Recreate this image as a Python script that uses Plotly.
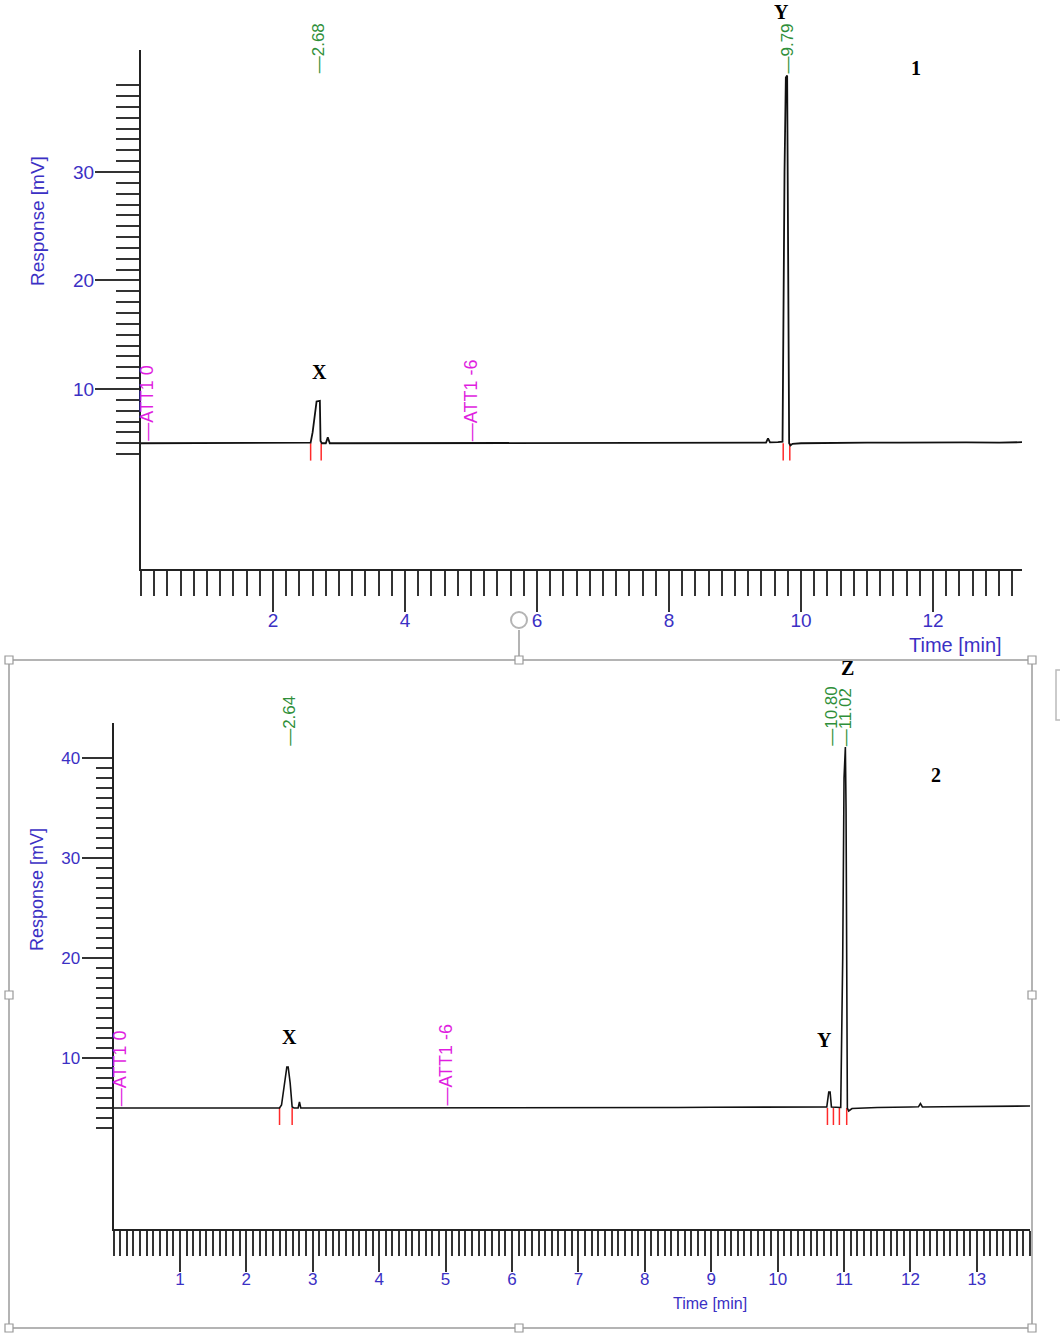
import plotly.graph_objects as go

# ---------------- data ----------------
# Chromatogram 1 (top panel)
time_1 = [0.00, 0.50, 1.00, 1.50, 2.00, 2.50, 2.57, 2.60, 2.63, 2.66, 2.71, 2.72, 2.74,
          2.80, 2.83, 2.86, 3.00, 4.00, 5.00, 6.00, 7.00, 8.00, 9.00, 9.40, 9.47,
          9.50, 9.53, 9.65, 9.72, 9.75, 9.77, 9.79, 9.80, 9.82, 9.84, 9.87, 10.00,
          10.50, 11.00, 11.50, 12.00, 12.50, 13.00, 13.35]
resp_1 = [5.00, 5.00, 5.00, 5.00, 5.00, 5.00, 5.05, 6.00, 7.60, 8.85, 8.90, 5.20, 5.00,
          5.00, 5.55, 5.00, 5.00, 5.00, 5.00, 5.00, 5.00, 5.00, 5.02, 5.05, 5.05,
          5.45, 5.08, 5.10, 5.15, 30.00, 38.70, 38.90, 30.00, 5.00, 4.80, 4.95, 5.00,
          5.05, 5.05, 5.05, 5.08, 5.08, 5.05, 5.10]

# Chromatogram 2 (bottom panel)
time_2 = [0.00, 0.50, 1.00, 1.50, 2.00, 2.50, 2.53, 2.57, 2.61, 2.63, 2.66, 2.69, 2.72,
          2.78, 2.80, 2.82, 3.00, 4.00, 5.00, 6.00, 7.00, 8.00, 8.50, 9.00, 9.50,
          10.00, 10.50, 10.74, 10.77, 10.79, 10.81, 10.90, 10.95, 10.98, 11.00, 11.02,
          11.03, 11.05, 11.07, 11.12, 11.50, 12.00, 12.12, 12.15, 12.18, 12.50, 13.00,
          13.50, 13.81]
resp_2 = [5.00, 5.00, 5.00, 5.00, 5.00, 5.00, 5.30, 7.00, 9.10, 9.10, 7.50, 5.10, 5.00,
          5.00, 5.60, 5.00, 5.00, 5.00, 5.00, 5.00, 5.00, 5.02, 5.05, 5.08, 5.10,
          5.10, 5.12, 5.10, 6.60, 6.60, 5.10, 5.10, 5.05, 20.00, 38.00, 41.10,
          35.00, 5.00, 4.70, 4.95, 5.05, 5.10, 5.12, 5.45, 5.10, 5.12, 5.15,
          5.18, 5.20]

peak_rt_1 = [2.68, 9.79]
peak_rt_2 = [2.64, 10.80, 11.02]
bounds_1 = [2.57, 2.73, 9.73, 9.83]
bounds_2 = [2.50, 2.69, 10.75, 10.84, 10.93, 11.04]
event_time = [0.10, 5.00]
event_text = ["ATT1 0", "ATT1 -6"]

# peak letters (text, time, response) per panel
letters_1 = ["X", "Y", "1"]
letter_t_1 = [2.71, 9.71, 11.74]
letter_r_1 = [11.6, 44.75, 39.6]
letters_2 = ["X", "Y", "Z", "2"]
letter_t_2 = [2.65, 10.71, 11.05, 12.39]
letter_r_2 = [12.1, 11.8, 49.0, 38.3]

# axis ticks
x1_major = list(range(0, 14))
x1_text = [str(v) if v % 2 == 0 and v > 0 else "" for v in x1_major]
x1_minor = [round(0.2 * i, 1) for i in range(0, 67)]
y1_major = [5, 10, 15, 20, 25, 30, 35]
y1_text = ["", "10", "", "20", "", "30", ""]
y1_minor = list(range(4, 39))

x2_major = [round(0.5 * i, 1) for i in range(0, 28)]
x2_text = [str(int(v)) if v == int(v) and v > 0 else "" for v in x2_major]
x2_minor = [round(0.1 * i, 1) for i in range(0, 139)]
y2_major = [5, 10, 15, 20, 25, 30, 35, 40]
y2_text = ["", "10", "", "20", "", "30", "", "40"]
y2_minor = list(range(3, 40))

assert len(time_1) == len(resp_1) and len(time_2) == len(resp_2)

# ---------------- styling / layout ----------------
W, H = 1060, 1339
BLUE = "#3b30c4"
GREEN = "#2f8f3a"
MAGENTA = "#e01ee0"
RED = "#ff2a2a"
SANS = "Liberation Sans, Arial, sans-serif"
SERIF = "Liberation Serif, Times New Roman, serif"


def px(x):
    return x / W


def py(y):
    return 1 - y / H


X1_DOM, X1_RNG = [px(141), px(1022)], [0, 13.348]
Y1_DOM, Y1_RNG = [py(569), py(50)], [-6.59, 41.24]
X2_DOM, X2_RNG = [px(113.5), px(1030)], [0, 13.80]
Y2_DOM, Y2_RNG = [py(1229), py(723)], [-7.1, 43.5]


def to_paper(v, dom, rng):
    return dom[0] + (v - rng[0]) / (rng[1] - rng[0]) * (dom[1] - dom[0])


def seg(bounds, top, bottom):
    xs, ys = [], []
    for b in bounds:
        xs += [b, b, None]
        ys += [top, bottom, None]
    return xs, ys


fig = go.Figure()

rx, ry = seg(bounds_1, 5.0, 3.4)
fig.add_trace(go.Scatter(x=rx, y=ry, mode="lines", line=dict(color=RED, width=1.5),
                         xaxis="x", yaxis="y", showlegend=False, hoverinfo="skip"))
fig.add_trace(go.Scatter(x=time_1, y=resp_1, mode="lines", line=dict(color="#111", width=1.8),
                         xaxis="x", yaxis="y", showlegend=False))
rx, ry = seg(bounds_2, 5.0, 3.3)
fig.add_trace(go.Scatter(x=rx, y=ry, mode="lines", line=dict(color=RED, width=1.5),
                         xaxis="x2", yaxis="y2", showlegend=False, hoverinfo="skip"))
fig.add_trace(go.Scatter(x=time_2, y=resp_2, mode="lines", line=dict(color="#111", width=1.6),
                         xaxis="x2", yaxis="y2", showlegend=False))


def axis(domain, rng, anchor, major, text, ticklen, minor, mlen, fsize, standoff):
    return dict(domain=domain, range=rng, anchor=anchor, showline=True, linecolor="#222",
                linewidth=2, ticks="outside", tickmode="array", tickvals=major, ticktext=text,
                ticklen=ticklen, tickwidth=2, tickcolor="#333", ticklabelstandoff=standoff,
                minor=dict(tickmode="array", tickvals=minor, ticklen=mlen, tickwidth=2,
                           tickcolor="#333", ticks="outside", showgrid=False),
                tickfont=dict(family=SANS, size=fsize, color=BLUE),
                showgrid=False, zeroline=False)


fig.update_layout(
    width=W, height=H, margin=dict(l=0, r=0, t=0, b=0),
    paper_bgcolor="white", plot_bgcolor="white", showlegend=False,
    xaxis=axis(X1_DOM, X1_RNG, "y", x1_major, x1_text, 41, x1_minor, 25, 19, -8),
    yaxis=axis(Y1_DOM, Y1_RNG, "x", y1_major, y1_text, 44, y1_minor, 23, 19, -3),
    xaxis2=axis(X2_DOM, X2_RNG, "y2", x2_major, x2_text, 41, x2_minor, 25, 17, -7),
    yaxis2=axis(Y2_DOM, Y2_RNG, "x2", y2_major, y2_text, 30, y2_minor, 16, 17, -2),
)

ann = []
# axis titles
ann.append(dict(x=px(37), y=py(221), xref="paper", yref="paper", text="Response [mV]",
                textangle=-90, xanchor="center", yanchor="middle", showarrow=False,
                font=dict(family=SANS, size=19, color=BLUE)))
ann.append(dict(x=px(955), y=py(645), xref="paper", yref="paper", text="Time [min]",
                xanchor="center", yanchor="middle", showarrow=False,
                font=dict(family=SANS, size=20, color=BLUE)))
ann.append(dict(x=px(37), y=py(890), xref="paper", yref="paper", text="Response [mV]",
                textangle=-90, xanchor="center", yanchor="middle", showarrow=False,
                font=dict(family=SANS, size=18, color=BLUE)))
ann.append(dict(x=px(710), y=py(1303), xref="paper", yref="paper", text="Time [min]",
                xanchor="center", yanchor="middle", showarrow=False,
                font=dict(family=SANS, size=16, color=BLUE)))

# retention-time labels
for rt in peak_rt_1:
    ann.append(dict(x=rt, y=38.9, xref="x", yref="y", text="\u2014" + f"{rt:.2f}",
                    textangle=-90, xanchor="center", yanchor="bottom", showarrow=False,
                    font=dict(family=SANS, size=17, color=GREEN)))
for rt in peak_rt_2:
    ann.append(dict(x=rt, y=41.0, xref="x2", yref="y2", text="\u2014" + f"{rt:.2f}",
                    textangle=-90, xanchor="center", yanchor="bottom", showarrow=False,
                    font=dict(family=SANS, size=17, color=GREEN)))

# events
for t, s in zip(event_time, event_text):
    for xr, yr in [("x", "y"), ("x2", "y2")]:
        ann.append(dict(x=t, y=5.0, xref=xr, yref=yr, text="\u2014" + s, textangle=-90,
                        xanchor="center", yanchor="bottom", showarrow=False,
                        font=dict(family=SANS, size=18, color=MAGENTA)))

# peak letters and panel numbers (converted to paper so they may sit above the axes)
for s, t, r in zip(letters_1, letter_t_1, letter_r_1):
    ann.append(dict(x=to_paper(t, X1_DOM, X1_RNG), y=to_paper(r, Y1_DOM, Y1_RNG),
                    xref="paper", yref="paper", text=f"<b>{s}</b>", showarrow=False,
                    xanchor="center", yanchor="middle",
                    font=dict(family=SERIF, size=20, color="black")))
for s, t, r in zip(letters_2, letter_t_2, letter_r_2):
    ann.append(dict(x=to_paper(t, X2_DOM, X2_RNG), y=to_paper(r, Y2_DOM, Y2_RNG),
                    xref="paper", yref="paper", text=f"<b>{s}</b>", showarrow=False,
                    xanchor="center", yanchor="middle",
                    font=dict(family=SERIF, size=20, color="black")))
fig.update_layout(annotations=ann)

# selection frame around the second chromatogram (document screenshot decoration)
FRAME = "#b4b4b4"
shapes = [dict(type="rect", xref="paper", yref="paper", x0=px(9), y0=py(660), x1=px(1032),
               y1=py(1328), line=dict(color=FRAME, width=2), layer="below")]
shapes.append(dict(type="line", xref="paper", yref="paper", x0=px(519), y0=py(630),
                   x1=px(519), y1=py(660), line=dict(color=FRAME, width=2)))
shapes.append(dict(type="circle", xref="paper", yref="paper", x0=px(511), y0=py(628),
                   x1=px(527), y1=py(612), line=dict(color=FRAME, width=2)))
for hx, hy in [(9, 660), (519, 660), (1032, 660), (9, 995), (1032, 995),
               (9, 1328), (519, 1328), (1032, 1328)]:
    shapes.append(dict(type="rect", xref="paper", yref="paper", x0=px(hx - 4), y0=py(hy + 4),
                       x1=px(hx + 4), y1=py(hy - 4), fillcolor="white",
                       line=dict(color="#999", width=1.2)))
shapes.append(dict(type="path", xref="paper", yref="paper",
                   path=f"M {px(1062)} {py(670)} L {px(1056)} {py(670)} L {px(1056)} {py(720)} L {px(1062)} {py(720)}",
                   line=dict(color="#bbb", width=1.5)))
fig.update_layout(shapes=shapes)

fig.write_html("out.html", config={"displayModeBar": False},
               post_script="document.body.style.margin='0px';")
